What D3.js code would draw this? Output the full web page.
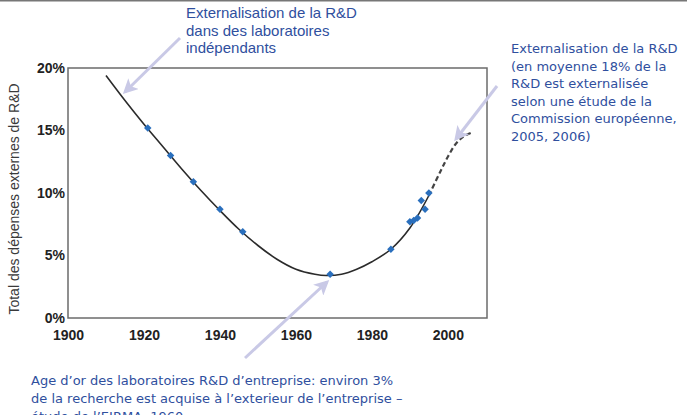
<!DOCTYPE html>
<html>
<head>
<meta charset="utf-8">
<script src="https://cdn.jsdelivr.net/npm/d3@7"></script>
<style>
  body { margin: 0; background: #fff; }
  svg { display: block; }
</style>
</head>
<body>
<svg width="687" height="415"></svg>
<script>
// observed points (year, % external R&D)
var pointYears = [1921, 1927, 1933, 1940, 1946, 1969, 1985, 1990, 1991, 1992, 1993, 1994, 1995];
var pointValues = [15.2, 13.0, 10.9, 8.7, 6.9, 3.5, 5.5, 7.7, 7.8, 8.0, 9.4, 8.7, 10.0];

// fitted trend (solid) and projection (dashed)
var trendYears = [1910, 1915, 1920, 1925, 1930, 1935, 1940, 1945, 1950, 1955, 1960, 1965, 1968, 1972, 1976, 1980, 1985, 1990, 1995];
var trendValues = [19.4, 17.4, 15.5, 13.7, 11.9, 10.2, 8.6, 7.1, 5.8, 4.7, 3.9, 3.5, 3.4, 3.5, 3.9, 4.5, 5.5, 7.2, 9.8];
var projYears = [1995, 1998, 2000, 2002, 2004, 2006];
var projValues = [9.8, 11.7, 12.9, 13.9, 14.5, 14.8];

var xTicks = [1900, 1920, 1940, 1960, 1980, 2000];
var yTicks = [0, 5, 10, 15, 20];

var svg = d3.select("svg");
var blue = "#2f4f9e";
var arrowCol = "#c9c9e6";

var x = d3.scaleLinear().domain([1900, 2010.3]).range([68, 487]);
var y = d3.scaleLinear().domain([0, 20]).range([318, 68]);

// top rule
svg.append("line").attr("x1", 0).attr("x2", 687).attr("y1", 0.5).attr("y2", 0.5)
    .attr("stroke", "#777").attr("stroke-width", 2);

// frame
svg.append("rect").attr("x", x(1900)).attr("y", y(20))
    .attr("width", x(2010.3) - x(1900)).attr("height", y(0) - y(20))
    .attr("fill", "none").attr("stroke", "#6b6b6b").attr("stroke-width", 1.5);

var xAxis = svg.append("g").attr("transform", "translate(0," + y(0) + ")")
    .call(d3.axisBottom(x).tickValues(xTicks).tickFormat(d3.format("d")).tickSize(0).tickPadding(12));
var yAxis = svg.append("g").attr("transform", "translate(" + x(1900) + ",0)")
    .call(d3.axisLeft(y).tickValues(yTicks).tickFormat(function(d) { return d + "%"; }).tickSize(0).tickPadding(3));
[xAxis, yAxis].forEach(function(a) {
  a.select(".domain").remove();
  a.attr("font-family", "Liberation Sans, Arial").attr("font-size", 14).attr("font-weight", "bold");
  a.selectAll("text").attr("fill", "#222");
});

svg.append("text")
    .attr("transform", "translate(19,199) rotate(-90)")
    .attr("text-anchor", "middle")
    .style("font-family", "Liberation Sans, Arial")
    .style("font-size", "14px")
    .attr("fill", "#3a3a3a")
    .text("Total des dépenses externes de R&D");

var line = d3.line()
    .x(function(d) { return x(d[0]); })
    .y(function(d) { return y(d[1]); })
    .curve(d3.curveCatmullRom);

svg.append("path")
    .datum(d3.zip(trendYears, trendValues))
    .attr("d", line)
    .attr("fill", "none").attr("stroke", "#2b2b2b").attr("stroke-width", 1.6);

svg.append("path")
    .datum(d3.zip(projYears, projValues))
    .attr("d", line)
    .attr("fill", "none").attr("stroke", "#444").attr("stroke-width", 2.2)
    .attr("stroke-dasharray", "5,3");

// diamond markers (rotated squares)
svg.append("g").selectAll("path")
    .data(d3.zip(pointYears, pointValues))
    .enter().append("path")
      .attr("d", d3.symbol().type(d3.symbolSquare).size(28))
      .attr("transform", function(d) { return "translate(" + x(d[0]) + "," + y(d[1]) + ") rotate(45)"; })
      .attr("fill", "#2a6fbd");

// arrows
var defs = svg.append("defs");
defs.append("marker")
    .attr("id", "head").attr("viewBox", "0 0 10 10")
    .attr("refX", 8).attr("refY", 5)
    .attr("markerWidth", 5).attr("markerHeight", 5)
    .attr("orient", "auto-start-reverse")
  .append("path").attr("d", "M0,0 L10,5 L0,10 L2.5,5 Z").attr("fill", arrowCol);

var arrows = [[180, 38, 125, 92], [497, 86, 456, 139], [245, 358, 327, 282]];
svg.append("g").selectAll("line")
    .data(arrows)
    .enter().append("line")
      .attr("x1", function(d) { return d[0]; }).attr("y1", function(d) { return d[1]; })
      .attr("x2", function(d) { return d[2]; }).attr("y2", function(d) { return d[3]; })
      .attr("stroke", arrowCol).attr("stroke-width", 3)
      .attr("marker-end", "url(#head)");

function note(lines, x0, y0, lh, font, size) {
  var t = svg.append("text")
      .style("font-family", font)
      .style("font-size", size + "px")
      .attr("fill", blue);
  lines.forEach(function(s, i) {
    t.append("tspan").attr("x", x0).attr("y", y0 + i * lh).text(s);
  });
}

note(["Externalisation de la R&D", "dans des laboratoires", "indépendants"],
     186, 18, 17.5, "Liberation Sans, Arial", 15);
note(["Externalisation de la R&D", "(en moyenne 18% de la", "R&D est externalisée",
      "selon une étude de la", "Commission européenne,", "2005, 2006)"],
     511, 53, 17.5, "DejaVu Sans, Verdana", 13);
note(["Age d’or des laboratoires R&D d’entreprise: environ 3%",
      "de la recherche est acquise à l’exterieur de l’entreprise –",
      "étude de l’EIRMA, 1960"],
     31, 385, 18, "DejaVu Sans, Verdana", 13);
</script>
</body>
</html>
